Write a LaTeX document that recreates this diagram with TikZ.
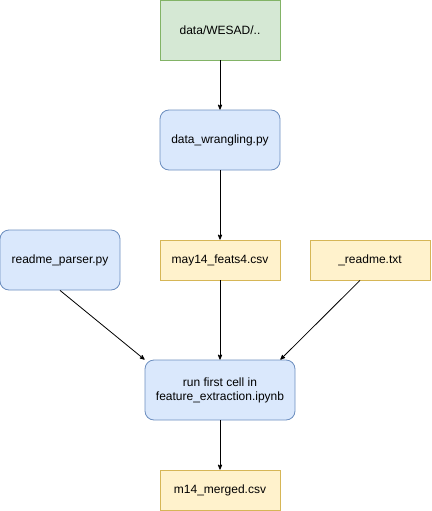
\documentclass[tikz,border=0pt]{standalone}
\usepackage{fontspec}
\setmainfont{Liberation Sans}
\usepackage{tikz}
\usetikzlibrary{arrows}

\definecolor{greenfill}{HTML}{D5E8D4}
\definecolor{greenline}{HTML}{82B366}
\definecolor{bluefill}{HTML}{DAE8FC}
\definecolor{blueline}{HTML}{6C8EBF}
\definecolor{yellowfill}{HTML}{FFF2CC}
\definecolor{yellowline}{HTML}{D6B656}

\begin{document}
\begin{tikzpicture}[->,>=stealth',x=1pt,y=-1pt,line width=0.8pt,
  font=\fontsize{12}{14}\selectfont]
  \tikzstyle{every node}=[align=center,inner sep=0pt,line width=0.8pt]
  \tikzstyle{source}=[draw=greenline,fill=greenfill,minimum width=120pt,minimum height=60pt]
  \tikzstyle{script}=[draw=blueline,fill=bluefill,rounded corners=9pt,minimum width=120pt,minimum height=60pt]
  \tikzstyle{datafile}=[draw=yellowline,fill=yellowfill,minimum width=120pt,minimum height=40pt]

  \useasboundingbox (0,0) rectangle (431,511);

  \node[source]   (wesad)   at (220,30)  {data/WESAD/..};
  \node[script]   (wrangle) at (220,140) {data\_wrangling.py};
  \node[script]   (parser)  at (60,260)  {readme\_parser.py};
  \node[datafile] (feats)   at (220,260) {may14\_feats4.csv};
  \node[datafile] (readme)  at (370,260) {\_readme.txt};
  \node[script,minimum width=150pt] (run) at (220,390)
    {run first cell in\\feature\_extraction.ipynb};
  \node[datafile] (merged)  at (220,490) {m14\_merged.csv};

  \path (wesad)   edge (wrangle)
        (wrangle) edge (feats)
        (parser.south) edge (run.north west)
        (feats)   edge (run)
        ([xshift=-10pt]readme.south) edge ([xshift=-15pt]run.north east)
        (run)     edge (merged);
\end{tikzpicture}
\end{document}
